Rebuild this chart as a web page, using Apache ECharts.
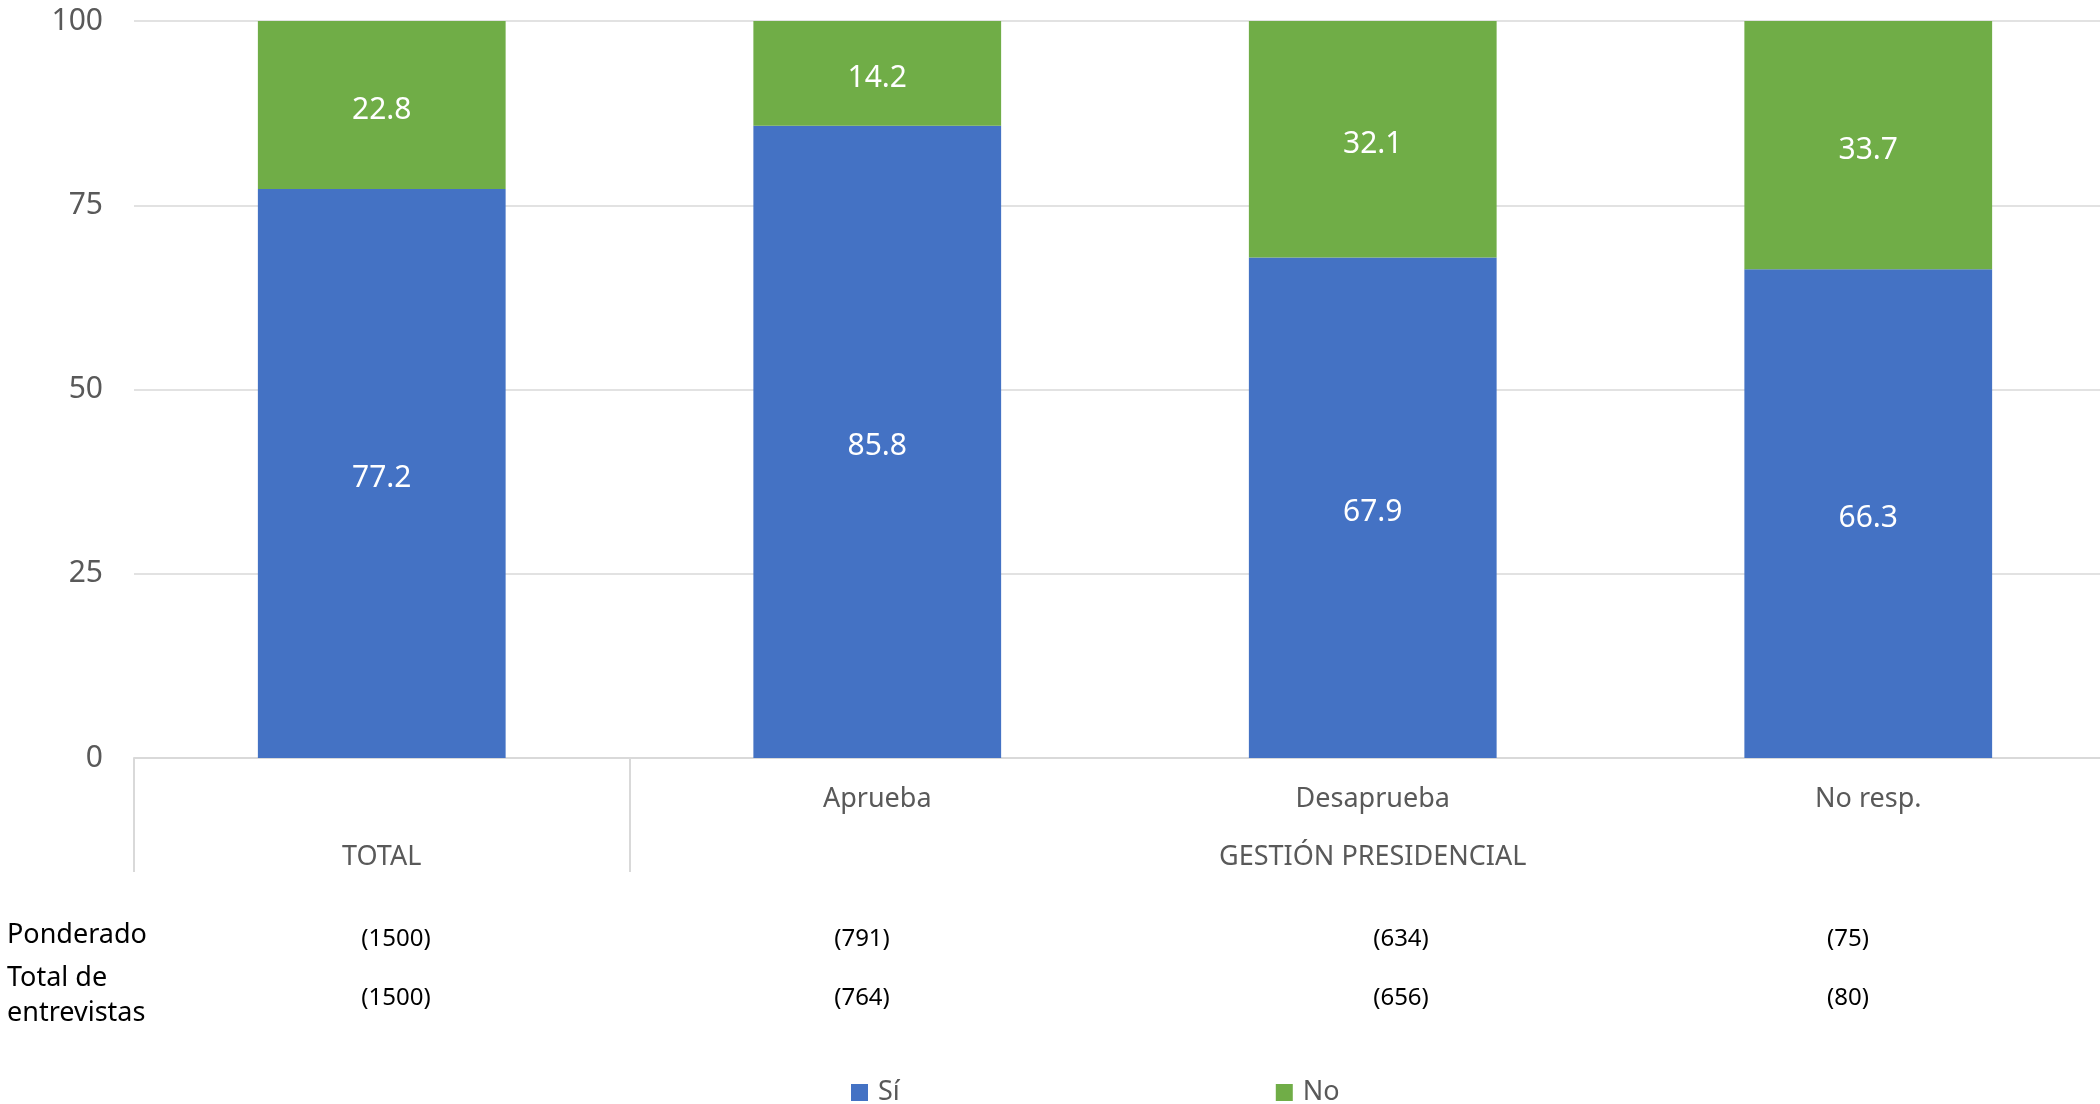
<!DOCTYPE html>
<html><head><meta charset="utf-8">
<script src="https://cdn.jsdelivr.net/npm/echarts@6/dist/echarts.min.js"></script>
<style>html,body{margin:0;padding:0;background:#fff}#c{width:2100px;height:1104px}</style>
</head><body><div id="c"></div>
<script>
var categories = ['', 'Aprueba', 'Desaprueba', 'No resp.'];
var groupLabels = ['TOTAL', '', 'GESTIÓN PRESIDENCIAL', ''];
var siValues = [77.2, 85.8, 67.9, 66.3];
var noValues = [22.8, 14.2, 32.1, 33.7];
var yTicks = [0, 25, 50, 75, 100];
var ponderado = ['(1500)', '(791)', '(634)', '(75)'];
var entrevistas = ['(1500)', '(764)', '(656)', '(80)'];
var rowLabels = ['Ponderado', 'Total de\nentrevistas'];

var FONT = '"Noto Sans", sans-serif';
var chart = echarts.init(document.getElementById('c'));
var tableX = [396, 862, 1401, 1848];
var graphics = [];
graphics.push({type:'text', left:7, top:922, style:{text:rowLabels[0], font:'27px ' + FONT, fill:'#000'}});
graphics.push({type:'text', left:7, top:961, style:{text:rowLabels[1], font:'27px ' + FONT, fill:'#000', lineHeight:35}});
for (var i = 0; i < 4; i++) {
  graphics.push({type:'text', x:tableX[i], y:939, style:{text:ponderado[i], font:'24px ' + FONT, fill:'#000', align:'center', verticalAlign:'middle'}});
  graphics.push({type:'text', x:tableX[i], y:998, style:{text:entrevistas[i], font:'24px ' + FONT, fill:'#000', align:'center', verticalAlign:'middle'}});
}

var dataLabel = {show: true, position: 'inside', offset: [0, 5], color: '#fff', fontSize: 30, fontFamily: FONT,
  formatter: function (p) { return p.value.toFixed(1); }};

chart.setOption({
  animation: false,
  textStyle: {fontFamily: FONT},
  grid: {left: 134, width: 1982, top: 21, bottom: 346, containLabel: false, outerBoundsMode: 'none'},
  legend: {
    data: ['Sí', 'No'], left: 846, top: 1074, itemWidth: 17, itemHeight: 17, itemGap: 376,
    icon: 'rect', textStyle: {fontSize: 27, color: '#595959', fontFamily: FONT, padding: [0, 0, 0, 5]}
  },
  xAxis: [{
    type: 'category', data: categories, boundaryGap: true,
    axisLine: {show: true, lineStyle: {color: '#d9d9d9', width: 2}},
    axisTick: {show: true, length: 114, interval: function (idx) { return idx <= 1; }, lineStyle: {color: '#d9d9d9', width: 2}},
    axisLabel: {interval: 0, margin: 28, fontSize: 27, color: '#595959', fontFamily: FONT}
  }, {
    type: 'category', data: groupLabels, position: 'bottom',
    axisLine: {show: false}, axisTick: {show: false},
    axisLabel: {interval: 0, margin: 86, fontSize: 27, color: '#595959', fontFamily: FONT}
  }],
  yAxis: {
    type: 'value', min: 0, max: 100, interval: 25,
    axisLine: {show: false}, axisTick: {show: false},
    splitLine: {lineStyle: {color: '#d9d9d9', width: 1.5}},
    axisLabel: {fontSize: 30, color: '#595959', margin: 31, fontFamily: FONT}
  },
  series: [{
    name: 'Sí', type: 'bar', stack: 'a', data: siValues, barWidth: '50%', xAxisIndex: 0,
    itemStyle: {color: '#4472C4'}, label: dataLabel
  }, {
    name: 'No', type: 'bar', stack: 'a', data: noValues, barWidth: '50%', xAxisIndex: 0,
    itemStyle: {color: '#70AD47'}, label: dataLabel
  }],
  graphic: graphics
});
</script></body></html>
